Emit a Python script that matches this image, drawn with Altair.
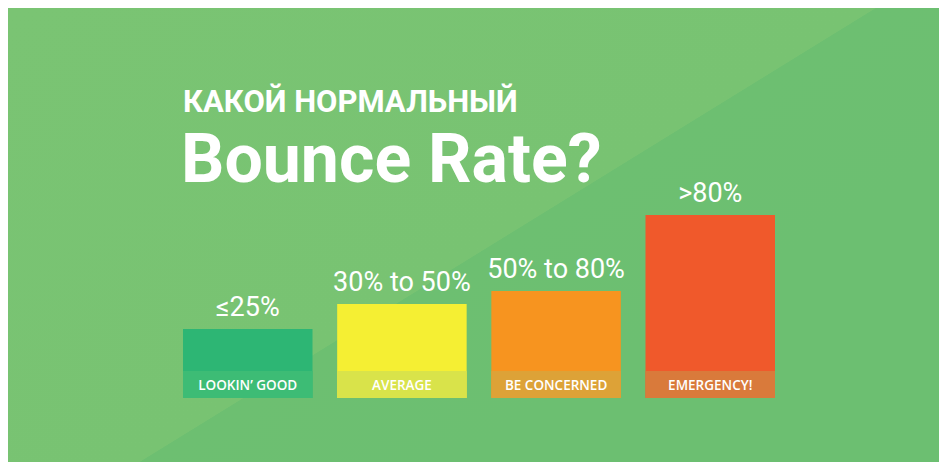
import altair as alt
import pandas as pd

# ---- data ----
categories = ["LOOKIN’ GOOD", "AVERAGE", "BE CONCERNED", "EMERGENCY!"]
range_labels = ["≤25%", "30% to 50%", "50% to 80%", ">80%"]
bar_heights = [69, 94, 107, 183]          # relative bar heights (px units)
bar_colors = ["#2DB674", "#F5EF33", "#F7941F", "#F0592B"]
strip_colors = ["#3DBC75", "#D9E34A", "#DDA237", "#D97A3B"]
title_line1 = ["КАКОЙ НОРМАЛЬНЫЙ"]
title_line2 = ["Bounce Rate?"]

W, H = 931, 454
BOTTOM = 390

df = pd.DataFrame({"cat": categories, "label": range_labels, "h": bar_heights})

x_enc = alt.X("cat:N", sort=categories,
              scale=alt.Scale(range=[175, 767], paddingInner=0.16, paddingOuter=0),
              axis=None)
y_scale = alt.Scale(domain=[0, BOTTOM], range=[BOTTOM, 0])

bg = alt.Chart(pd.DataFrame({"k": [0]})).mark_rect(
    color=alt.LinearGradient(
        gradient="linear",
        x1=0, y1=0, x2=0.784, y2=0.620,
        stops=[
            alt.GradientStop(offset=0, color="#7AC473"),
            alt.GradientStop(offset=0.731, color="#78C372"),
            alt.GradientStop(offset=0.732, color="#6DBF71"),
            alt.GradientStop(offset=1, color="#6CBF71"),
        ],
    )
).encode(x=alt.value(0), x2=alt.value(W), y=alt.value(0), y2=alt.value(H))

bars = alt.Chart(df).mark_bar().encode(
    x=x_enc,
    y=alt.Y("h:Q", scale=y_scale, axis=None),
    color=alt.Color("cat:N", scale=alt.Scale(domain=categories, range=bar_colors), legend=None),
)

strips = alt.Chart(df).mark_bar().encode(
    x=x_enc,
    y=alt.value(363),
    y2=alt.value(BOTTOM),
    fill=alt.Fill("cat:N", scale=alt.Scale(domain=categories, range=strip_colors), legend=None),
)

cat_text = alt.Chart(df).mark_text(
    font="Open Sans", fontSize=13.5, fontWeight=600, color="#FFFFFF", baseline="alphabetic"
).encode(x=alt.X("cat:N", sort=categories, bandPosition=0.5), y=alt.value(382), text="cat:N")

val_text = alt.Chart(df).mark_text(
    font="Roboto", fontSize=27, color="#FFFFFF", baseline="alphabetic", dy=-13
).encode(
    x=alt.X("cat:N", sort=categories, bandPosition=0.5),
    y=alt.Y("h:Q", scale=y_scale, axis=None),
    text="label:N",
)

t1 = alt.Chart(pd.DataFrame({"t": title_line1})).mark_text(
    font="Roboto", fontSize=31, fontWeight="bold", color="#FFFFFF", align="left", baseline="alphabetic"
).encode(x=alt.value(175), y=alt.value(104), text="t:N")

t2 = alt.Chart(pd.DataFrame({"t": title_line2})).mark_text(
    font="Roboto", fontSize=68, fontWeight="bold", color="#FFFFFF", align="left", baseline="alphabetic"
).encode(x=alt.value(173), y=alt.value(174), text="t:N")

chart = alt.layer(bg, bars, strips, cat_text, val_text, t1, t2).resolve_scale(
    color="independent", fill="independent"
).properties(
    width=W, height=H, padding=0, autosize=alt.AutoSizeParams(type="none"),
    background="#6CBF71",
).configure_view(stroke=None)

chart.save("out.html", embed_options={"renderer": "svg", "actions": False})
